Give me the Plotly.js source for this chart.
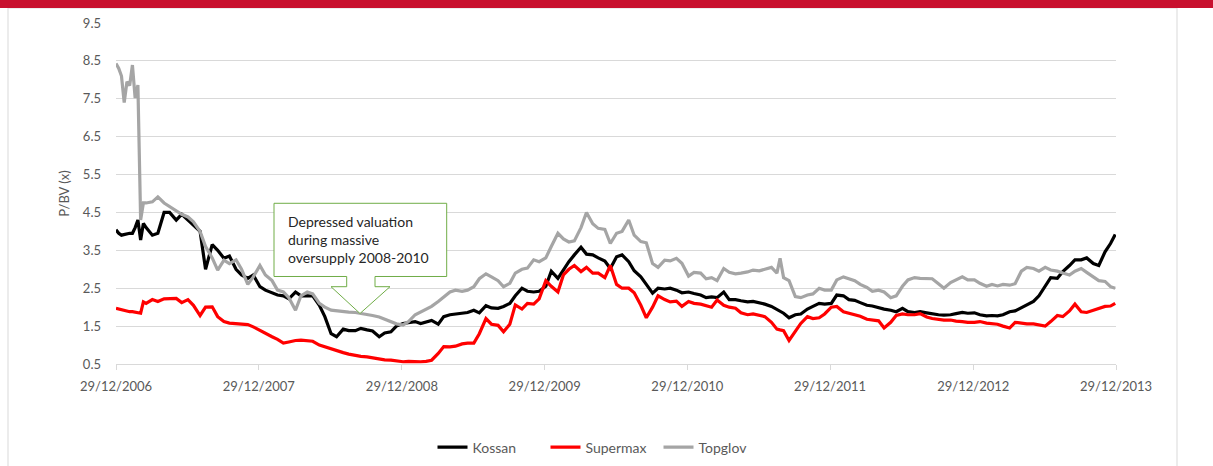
<!DOCTYPE html>
<html>
<head>
<meta charset="utf-8">
<script src="https://cdn.plot.ly/plotly-3.0.1.min.js"></script>
<style>
html,body{margin:0;padding:0;background:#fff;}
#chart{width:1213px;height:466px;}
</style>
</head>
<body>
<div id="chart"></div>
<script>
// Dates (weekly in early 2007, then 1st and 15th of each month)
var dates = [
'2006-12-29','2007-01-05','2007-01-12','2007-01-19','2007-01-26','2007-02-02','2007-02-09','2007-02-16','2007-02-23','2007-03-02','2007-03-09','2007-03-16',
'2007-04-01','2007-04-15','2007-05-01','2007-05-15','2007-06-01','2007-06-15','2007-07-01','2007-07-15','2007-08-01','2007-08-15','2007-09-01','2007-09-15','2007-10-01','2007-10-15','2007-11-01','2007-11-15','2007-12-01','2007-12-15',
'2008-01-01','2008-01-15','2008-02-01','2008-02-15','2008-03-01','2008-03-15','2008-04-01','2008-04-15','2008-05-01','2008-05-15','2008-06-01','2008-06-15','2008-07-01','2008-07-15','2008-08-01','2008-08-15','2008-09-01','2008-09-15','2008-10-01','2008-10-15','2008-11-01','2008-11-15','2008-12-01','2008-12-15',
'2009-01-01','2009-01-15','2009-02-01','2009-02-15','2009-03-01','2009-03-15','2009-04-01','2009-04-15','2009-05-01','2009-05-15','2009-06-01','2009-06-15','2009-07-01','2009-07-15','2009-08-01','2009-08-15','2009-09-01','2009-09-15','2009-10-01','2009-10-15','2009-11-01','2009-11-15','2009-12-01','2009-12-15',
'2010-01-01','2010-01-15','2010-02-01','2010-02-15','2010-03-01','2010-03-15','2010-04-01','2010-04-15','2010-05-01','2010-05-15','2010-06-01','2010-06-15','2010-07-01','2010-07-15','2010-08-01','2010-08-15','2010-09-01','2010-09-15','2010-10-01','2010-10-15','2010-11-01','2010-11-15','2010-12-01','2010-12-15',
'2011-01-01','2011-01-15','2011-02-01','2011-02-15','2011-03-01','2011-03-15','2011-04-01','2011-04-15','2011-05-01','2011-05-15','2011-06-01','2011-06-15','2011-07-01','2011-07-15','2011-08-01','2011-08-15','2011-08-23','2011-09-01','2011-09-15','2011-10-01','2011-10-15','2011-11-01','2011-11-15','2011-12-01','2011-12-15',
'2012-01-01','2012-01-15','2012-02-01','2012-02-15','2012-03-01','2012-03-15','2012-04-01','2012-04-15','2012-05-01','2012-05-15','2012-06-01','2012-06-15','2012-07-01','2012-07-15','2012-08-01','2012-08-15','2012-09-01','2012-09-15','2012-10-01','2012-10-15','2012-11-01','2012-11-15','2012-12-01','2012-12-15',
'2013-01-01','2013-01-15','2013-02-01','2013-02-15','2013-03-01','2013-03-15','2013-04-01','2013-04-15','2013-05-01','2013-05-15','2013-06-01','2013-06-15','2013-07-01','2013-07-15','2013-08-01','2013-08-15','2013-09-01','2013-09-15','2013-10-01','2013-10-15','2013-11-01','2013-11-15','2013-12-01','2013-12-15','2013-12-27'
];

var kossan = [
4.04,3.95,3.9,3.92,3.95,3.95,3.95,4.1,4.3,3.77,4.21,4.1,
3.9,3.95,4.5,4.5,4.3,4.45,4.3,4.17,4.0,3.0,3.65,3.5,3.29,3.35,3.0,2.85,2.76,2.85,
2.54,2.45,2.38,2.32,2.3,2.22,2.4,2.3,2.3,2.3,2.05,1.75,1.3,1.22,1.42,1.38,1.38,1.44,1.4,1.37,1.22,1.32,1.35,1.5,
1.57,1.6,1.62,1.57,1.62,1.65,1.55,1.75,1.8,1.82,1.84,1.86,1.92,1.85,2.04,1.98,1.97,2.02,2.1,2.3,2.5,2.42,2.4,2.42,
2.55,2.95,2.76,3.0,3.2,3.38,3.58,3.4,3.38,3.3,3.22,3.02,3.33,3.38,3.2,2.96,2.8,2.6,2.37,2.5,2.48,2.5,2.45,2.38,
2.4,2.36,2.32,2.25,2.27,2.25,2.4,2.2,2.2,2.17,2.14,2.15,2.12,2.08,2.02,1.94,1.9,1.84,1.72,1.8,1.82,1.95,2.02,2.1,2.08,
2.1,2.32,2.3,2.2,2.18,2.12,2.05,2.03,1.98,1.95,1.92,1.88,1.97,1.88,1.86,1.88,1.85,1.82,1.8,1.79,1.8,1.83,1.86,1.84,
1.85,1.8,1.77,1.78,1.77,1.8,1.88,1.9,1.98,2.06,2.15,2.3,2.55,2.78,2.76,2.94,3.1,3.25,3.25,3.3,3.15,3.1,3.46,3.68,3.92
];

var supermax = [
1.97,1.95,1.92,1.9,1.88,1.88,1.88,1.87,1.87,1.84,2.14,2.1,
2.2,2.15,2.22,2.22,2.23,2.12,2.2,2.05,1.78,2.0,2.01,1.75,1.62,1.58,1.57,1.56,1.54,1.48,
1.38,1.3,1.22,1.15,1.05,1.08,1.12,1.13,1.12,1.1,1.0,0.95,0.9,0.86,0.8,0.76,0.72,0.7,0.69,0.66,0.63,0.61,0.6,0.58,
0.56,0.57,0.56,0.56,0.57,0.6,0.78,0.96,0.95,0.97,1.03,1.05,1.05,1.3,1.7,1.55,1.52,1.35,1.55,2.06,1.95,2.1,2.08,2.22,
2.7,2.55,2.4,2.85,3.0,3.1,2.94,3.05,2.9,2.9,2.78,3.1,2.6,2.5,2.5,2.38,2.05,1.72,2.0,2.3,2.2,2.14,2.16,2.02,
2.15,2.1,2.08,2.05,2.0,2.19,2.05,2.0,1.97,1.85,1.8,1.82,1.79,1.75,1.6,1.42,1.4,1.38,1.12,1.35,1.57,1.75,1.7,1.72,1.82,
2.0,2.02,1.88,1.84,1.8,1.76,1.68,1.66,1.64,1.45,1.6,1.78,1.82,1.8,1.8,1.83,1.74,1.7,1.68,1.66,1.66,1.63,1.62,1.6,
1.6,1.62,1.58,1.57,1.55,1.5,1.45,1.6,1.58,1.56,1.56,1.53,1.5,1.62,1.78,1.75,1.9,2.08,1.88,1.86,1.92,1.98,2.02,2.03,2.1
];

var topglov = [
8.43,8.3,8.1,7.4,7.95,7.85,8.39,7.52,7.86,4.3,4.75,4.75,
4.78,4.91,4.75,4.65,4.55,4.45,4.38,4.25,4.0,3.6,3.3,2.98,3.24,3.15,3.25,3.0,2.6,2.8,
3.1,2.85,2.7,2.45,2.4,2.25,1.92,2.3,2.4,2.35,2.1,2.0,1.92,1.9,1.88,1.87,1.86,1.84,1.8,1.78,1.74,1.68,1.62,1.56,
1.53,1.62,1.8,1.88,1.95,2.02,2.15,2.28,2.4,2.45,2.42,2.45,2.54,2.75,2.88,2.8,2.7,2.54,2.63,2.9,3.0,3.03,3.25,3.2,
3.3,3.6,3.95,3.8,3.72,3.75,4.1,4.5,4.2,4.08,4.05,3.68,3.95,4.0,4.3,3.9,3.73,3.7,3.15,3.05,3.24,3.22,3.29,3.16,
2.82,2.92,2.9,2.75,2.78,2.7,3.02,2.92,2.88,2.9,2.93,2.98,2.96,3.0,3.05,2.9,3.29,2.78,2.7,2.28,2.25,2.32,2.35,2.5,2.45,
2.45,2.72,2.8,2.75,2.7,2.6,2.52,2.42,2.45,2.4,2.25,2.3,2.55,2.72,2.78,2.76,2.76,2.75,2.62,2.5,2.65,2.72,2.8,2.72,
2.72,2.63,2.55,2.6,2.56,2.6,2.58,2.62,2.95,3.05,3.02,2.95,3.05,2.98,2.95,2.9,2.85,2.95,3.02,2.92,2.8,2.7,2.68,2.54,2.5
];

var tickDates = ['2006-12-29','2007-12-29','2008-12-29','2009-12-29','2010-12-29','2011-12-29','2012-12-29','2013-12-29'];
var tickLabels = ['29/12/2006','29/12/2007','29/12/2008','29/12/2009','29/12/2010','29/12/2011','29/12/2012','29/12/2013'];
var seriesNames = ['Kossan','Supermax','Topglov'];
var seriesColors = ['#000000','#FF0000','#A5A5A5'];
var calloutText = 'Depressed valuation<br>during massive<br>oversupply 2008-2010';

var FONT = 'Lato, "Open Sans", sans-serif';
var values = [kossan, supermax, topglov];
var traces = values.map(function(v, i){
  return {x: dates, y: v, type: 'scatter', mode: 'lines', name: seriesNames[i],
          line: {color: seriesColors[i], width: 3.2}, hoverinfo: 'skip'};
});

var layout = {
  width: 1213, height: 466,
  margin: {l: 116, r: 97, t: 23, b: 102, autoexpand: false},
  paper_bgcolor: '#FFFFFF', plot_bgcolor: '#FFFFFF',
  font: {family: FONT, size: 13, color: '#595959'},
  showlegend: true,
  legend: {orientation: 'h', x: 0.486, xanchor: 'center', y: -0.245, yanchor: 'middle',
           font: {family: FONT, size: 14, color: '#595959'}, itemwidth: 30, tracegroupgap: 0,
           entrywidth: 68, entrywidthmode: 'pixels'},
  xaxis: {type: 'date', range: ['2006-12-29','2013-12-29'], tickvals: tickDates, ticktext: tickLabels,
          showgrid: false, zeroline: false, showline: true, linecolor: '#D9D9D9', linewidth: 1,
          ticks: 'outside', ticklen: 5, tickcolor: '#D9D9D9', ticklabelstandoff: 5,
          tickfont: {family: FONT, size: 13, color: '#595959'}},
  yaxis: {range: [0.5, 9.5], tick0: 0.5, dtick: 1, tickformat: '.1f', showgrid: true, gridcolor: '#D9D9D9',
          zeroline: false, showline: false, ticks: '', ticklabelstandoff: 14,
          tickfont: {family: FONT, size: 13, color: '#595959'},
          title: {text: 'P/BV (x)', standoff: 10, font: {family: FONT, size: 13, color: '#595959'}}},
  shapes: [
    {type: 'rect', xref: 'paper', yref: 'paper', x0: -0.2, x1: 1.2, y0: 1.044, y1: 1.09,
     fillcolor: '#C8102E', line: {width: 0}, layer: 'above'},
    {type: 'rect', xref: 'paper', yref: 'paper', x0: -0.108, x1: 1.061, y0: -0.32, y1: 1.044,
     fillcolor: 'rgba(0,0,0,0)', line: {color: '#D9D9D9', width: 1}, layer: 'below'},
    {type: 'path', xref: 'paper', yref: 'paper',
     path: 'M 0.158 0.4713 L 0.3307 0.4713 L 0.3307 0.2566 L 0.259 0.2566 L 0.259 0.2267 L 0.274 0.2267 L 0.244 0.1481 L 0.215 0.2267 L 0.2307 0.2267 L 0.2307 0.2566 L 0.158 0.2566 Z',
     fillcolor: '#FFFFFF', line: {color: '#70AD47', width: 1}, layer: 'above'}
  ],
  annotations: [
    {xref: 'paper', yref: 'paper', x: 0.17, y: 0.364, xanchor: 'left', yanchor: 'middle', align: 'left',
     text: calloutText, showarrow: false, font: {family: FONT, size: 14, color: '#262626'}}
  ]
};

Plotly.newPlot('chart', traces, layout, {staticPlot: true, displayModeBar: false});
</script>
</body>
</html>
